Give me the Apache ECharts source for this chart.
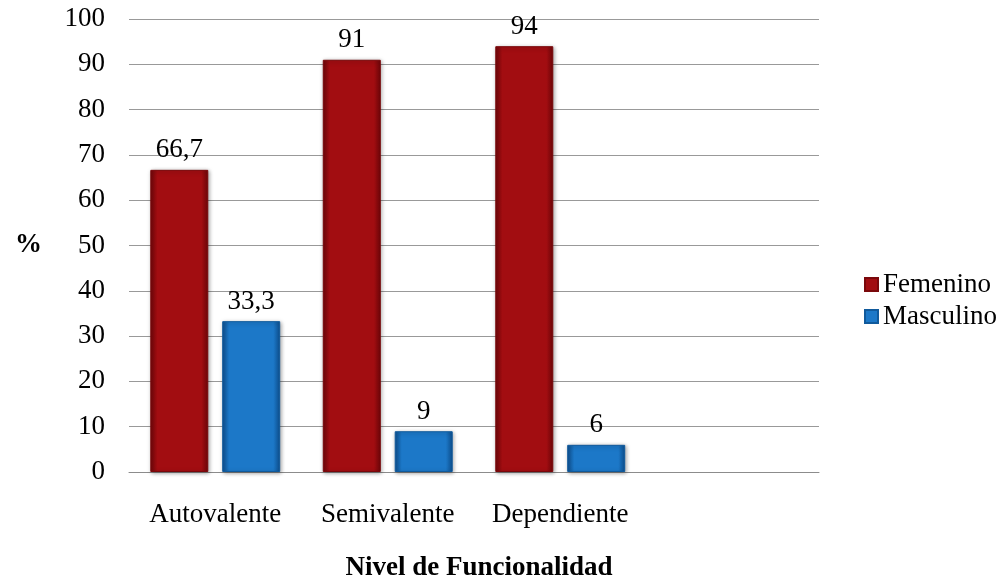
<!DOCTYPE html>
<html>
<head>
<meta charset="utf-8">
<script src="https://cdn.jsdelivr.net/npm/echarts@6/dist/echarts.min.js"></script>
<style>
html, body { margin: 0; padding: 0; background: #fff; }
#chart { width: 1003px; height: 578px; }
</style>
</head>
<body>
<div id="chart"></div>
<script>
var categories = ['Autovalente', 'Semivalente', 'Dependiente', ''];
var femenino = [66.7, 91, 94, null];
var masculino = [33.3, 9, 6, null];
var yTicks = [0, 10, 20, 30, 40, 50, 60, 70, 80, 90, 100];

function bevel(dark, main) {
	return new echarts.graphic.LinearGradient(0, 0, 1, 0, [
		{ offset: 0, color: dark },
		{ offset: 0.12, color: main },
		{ offset: 0.88, color: main },
		{ offset: 1, color: dark }
	]);
}

var font = 'Liberation Serif, Times New Roman, serif';
var fs = 27;
var myChart = echarts.init(document.getElementById('chart'));
var labelFmt = function(p) {
	return String(p.value).replace('.', ',');
};
var option = {
	textStyle : { fontFamily : font },
	grid : {
		left : 129,
		right : 184,
		top : 19,
		bottom : 106
	},
	title : {
		text : 'Nivel de Funcionalidad',
		left : 474,
		top : 550,
		textAlign : 'center',
		textStyle : { fontFamily : font, fontSize : fs, fontWeight : 'bold', color : '#000' }
	},
	graphic : [ {
		type : 'text',
		left : 15,
		top : 232,
		style : { text : '%', font : 'bold ' + fs + 'px ' + font, fill : '#000' }
	} ],
	legend : {
		orient : 'vertical',
		left : 859,
		top : 266,
		itemWidth : 13,
		itemHeight : 13,
		itemGap : 5,
		icon : 'rect',
		textStyle : { fontFamily : font, fontSize : fs, color : '#000' },
		data : [ 'Femenino', 'Masculino' ]
	},
	xAxis : {
		type : 'category',
		data : categories,
		axisLine : { lineStyle : { color : '#8c8c8c', width : 1 } },
		axisTick : { show : false },
		axisLabel : { color : '#000', fontSize : fs, fontFamily : font, margin : 29, interval : 0, hideOverlap : false }
	},
	yAxis : {
		type : 'value',
		min : 0,
		max : 100,
		interval : 10,
		axisLine : { show : false },
		axisTick : { show : false },
		splitLine : { lineStyle : { color : '#999', width : 1 } },
		axisLabel : {
			color : '#000', fontSize : fs, fontFamily : font, margin : 24,
			formatter : function(v) { return yTicks.indexOf(v) >= 0 ? String(v) : ''; }
		}
	},
	series : [ {
		name : 'Femenino',
		type : 'bar',
		data : femenino,
		barWidth : 58,
		barGap : '24%',
		itemStyle : {
			color : bevel('#6e0609', '#a20d11'),
			borderColor : '#7a080b',
			borderWidth : 1,
			shadowColor : 'rgba(0,0,0,0.35)',
			shadowBlur : 4,
			shadowOffsetX : 1,
			shadowOffsetY : 1
		},
		label : {
			show : true, position : 'top', distance : 6,
			color : '#000', fontSize : fs, fontFamily : font, formatter : labelFmt
		}
	}, {
		name : 'Masculino',
		type : 'bar',
		data : masculino,
		barWidth : 58,
		itemStyle : {
			color : bevel('#0d4f8e', '#1c78c8'),
			borderColor : '#105a9c',
			borderWidth : 1,
			shadowColor : 'rgba(0,0,0,0.35)',
			shadowBlur : 4,
			shadowOffsetX : 1,
			shadowOffsetY : 1
		},
		label : {
			show : true, position : 'top', distance : 6,
			color : '#000', fontSize : fs, fontFamily : font, formatter : labelFmt
		}
	} ]
};
myChart.setOption(option);
</script>
</body>
</html>
